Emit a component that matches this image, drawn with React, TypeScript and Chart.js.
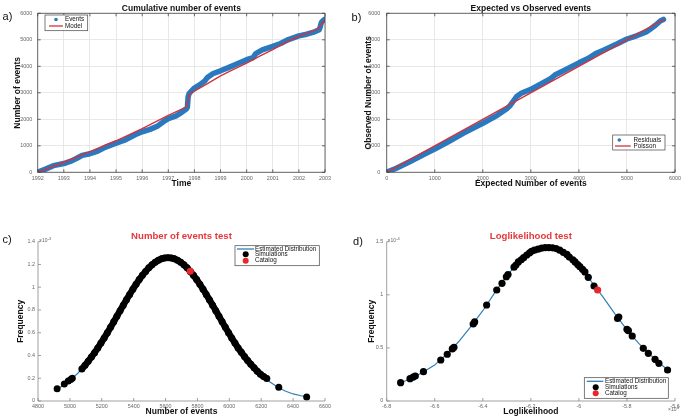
import { useEffect, useRef } from 'react';
import { Chart, registerables } from 'chart.js';
Chart.register(...registerables);

const FONT = '"Liberation Sans", Arial, Helvetica, sans-serif';
const BLUE = '#2a78bd';
const RED = '#d0343c';
const LINEBLUE = '#2f7fb8';
const TITLERED = '#e5383b';

// ---- Panel a: cumulative number of events ----
const eventYears = [1992.0, 1992.3, 1992.6, 1993.0, 1993.3, 1993.5, 1993.7, 1994.0, 1994.3, 1994.6, 1995.0, 1995.3, 1995.6, 1995.8, 1996.0, 1996.3, 1996.6, 1996.8, 1997.0, 1997.3, 1997.5, 1997.7, 1997.73, 1997.76, 1997.8, 1997.9, 1998.0, 1998.2, 1998.4, 1998.5, 1998.7, 1999.0, 1999.3, 1999.6, 2000.0, 2000.25, 2000.35, 2000.6, 2001.0, 2001.3, 2001.6, 2002.0, 2002.3, 2002.6, 2002.78, 2002.82, 2002.86, 2002.92, 2003.0];
const eventCounts = [0, 120, 250, 330, 430, 530, 640, 700, 800, 950, 1100, 1200, 1350, 1450, 1530, 1620, 1750, 1900, 2020, 2130, 2250, 2400, 2450, 2850, 2980, 3080, 3180, 3300, 3450, 3580, 3720, 3830, 3950, 4080, 4250, 4330, 4480, 4620, 4750, 4860, 5010, 5150, 5210, 5300, 5380, 5500, 5650, 5720, 5780];
const modelYears = [1992, 1993, 1994, 1995, 1996, 1997, 1997.7, 1997.74, 1997.78, 1997.85, 1998, 1998.5, 1999, 1999.5, 2000, 2000.5, 2001, 2001.5, 2002, 2002.5, 2002.75, 2002.85, 2002.95, 2003];
const modelCounts = [0, 380, 780, 1190, 1650, 2150, 2470, 2600, 2880, 2990, 3060, 3350, 3640, 3880, 4120, 4380, 4630, 4900, 5140, 5320, 5420, 5560, 5700, 5750];

// ---- Panel b: expected vs observed ----
const expectedX = [0, 200, 500, 800, 1000, 1300, 1600, 2000, 2300, 2500, 2560, 2620, 2700, 2800, 3000, 3200, 3400, 3500, 3700, 4000, 4200, 4350, 4500, 4800, 5000, 5200, 5400, 5500, 5600, 5700, 5760];
const observedY = [0, 150, 420, 700, 880, 1170, 1480, 1850, 2150, 2400, 2500, 2650, 2850, 2980, 3130, 3330, 3520, 3670, 3850, 4130, 4300, 4480, 4600, 4850, 5030, 5150, 5300, 5420, 5560, 5720, 5770];
const poissonX = [0, 5760];
const poissonY = [0, 5760];

// ---- Panel c: number of events test (y in 1e-3) ----
const distNX = [4920, 4950, 5000, 5050, 5100, 5150, 5200, 5250, 5300, 5350, 5400, 5450, 5500, 5550, 5600, 5650, 5700, 5750, 5800, 5850, 5900, 5950, 6000, 6050, 6100, 6150, 6200, 6250, 6300, 6350, 6400, 6450, 6490];
const distNY = [0.105, 0.13, 0.181, 0.244, 0.323, 0.415, 0.52, 0.636, 0.757, 0.878, 0.994, 1.096, 1.177, 1.233, 1.258, 1.252, 1.214, 1.147, 1.057, 0.949, 0.83, 0.708, 0.589, 0.477, 0.38, 0.295, 0.228, 0.172, 0.125, 0.088, 0.062, 0.046, 0.035];
const simNBandX = [5075, 5095, 5115, 5135, 5155, 5175, 5195, 5215, 5235, 5255, 5275, 5295, 5315, 5335, 5355, 5375, 5395, 5415, 5435, 5455, 5475, 5495, 5515, 5535, 5555, 5575, 5595, 5615, 5635, 5655, 5675, 5695, 5715, 5735, 5755, 5775, 5795, 5815, 5835, 5855, 5875, 5895, 5915, 5935, 5955, 5975, 5995, 6015, 6035, 6055, 6075, 6095, 6115, 6135, 6155, 6175, 6195, 6215, 6235];
const simNBandY = [0.282, 0.314, 0.349, 0.386, 0.425, 0.466, 0.509, 0.554, 0.6, 0.648, 0.696, 0.745, 0.794, 0.842, 0.89, 0.937, 0.983, 1.026, 1.067, 1.105, 1.139, 1.17, 1.197, 1.219, 1.237, 1.25, 1.257, 1.26, 1.257, 1.25, 1.237, 1.219, 1.197, 1.17, 1.139, 1.105, 1.067, 1.026, 0.983, 0.937, 0.89, 0.842, 0.794, 0.745, 0.696, 0.648, 0.6, 0.554, 0.509, 0.466, 0.428, 0.39, 0.355, 0.322, 0.292, 0.262, 0.236, 0.215, 0.198];
const simNTailX = [4920, 4965, 4990, 5005, 5015, 6310, 6485];
const simNTailY = [0.108, 0.15, 0.175, 0.19, 0.2, 0.12, 0.035];
const catalogNX = [5755];
const catalogNY = [1.14];

// ---- Panel d: loglikelihood test (x in 1e4, y in 1e-4) ----
const distLX = [-6.745, -6.7, -6.65, -6.6, -6.55, -6.5, -6.45, -6.4, -6.35, -6.3, -6.25, -6.2, -6.15, -6.1, -6.05, -6.0, -5.95, -5.9, -5.85, -5.8, -5.75, -5.7, -5.65, -5.625];
const distLY = [0.17, 0.21, 0.27, 0.34, 0.44, 0.56, 0.7, 0.85, 1.02, 1.18, 1.31, 1.4, 1.445, 1.44, 1.38, 1.27, 1.13, 0.98, 0.82, 0.67, 0.54, 0.43, 0.33, 0.285];
const simLX = [-6.742, -6.703, -6.69, -6.681, -6.647, -6.575, -6.548, -6.527, -6.52, -6.44, -6.434, -6.384, -6.342, -6.32, -6.302, -6.295, -6.27, -6.262, -6.252, -6.24, -6.23, -6.217, -6.205, -6.197, -6.185, -6.17, -6.155, -6.14, -6.125, -6.11, -6.095, -6.08, -6.065, -6.05, -6.04, -6.025, -6.016, -6.005, -5.996, -5.985, -5.975, -5.961, -5.937, -5.839, -5.834, -5.8, -5.794, -5.778, -5.732, -5.711, -5.683, -5.667, -5.631];
const simLY = [0.173, 0.21, 0.225, 0.235, 0.276, 0.386, 0.44, 0.49, 0.505, 0.725, 0.745, 0.904, 1.045, 1.108, 1.17, 1.19, 1.26, 1.28, 1.31, 1.33, 1.35, 1.375, 1.395, 1.41, 1.42, 1.43, 1.44, 1.445, 1.445, 1.442, 1.435, 1.42, 1.4, 1.38, 1.355, 1.33, 1.31, 1.285, 1.265, 1.24, 1.215, 1.165, 1.083, 0.778, 0.79, 0.675, 0.662, 0.612, 0.496, 0.449, 0.392, 0.355, 0.292];
const catalogLX = [-5.922];
const catalogLY = [1.045];

const pts = (xs: number[], ys: number[]) => xs.map((x, i) => ({ x, y: ys[i] }));
const fmt = (v: number) => String(Math.round(v * 1000) / 1000);

type LegendItem = { kind: 'dot' | 'line' | 'marker'; color: string; text: string; y: number; x1: number; x2?: number };
type ExtraSpec = {
  title: string; titleColor: string; titleSize: number; titleY: number;
  tag: string; tagX: number; tagY: number;
  box: boolean;
  legendBox: [number, number, number, number];
  legendTextX: number;
  legendItems: LegendItem[];
  exps: { base: string; sup: string; x: number; y: number }[];
};
type AxisSpec = { min: number; max: number; step: number; pad: number };
type Spec = {
  w: number; h: number; left: number; top: number;
  area: { l: number; r: number; t: number; b: number };
  yTitle: string; yTitleX: number; xTitle: string; xTitleY: number;
  x: AxisSpec; y: AxisSpec; grid: boolean;
  datasets: any[];
  extra: ExtraSpec;
};

const LABEL_SIZE = 8.5;
const LH = LABEL_SIZE * 1.2;

function extrasPlugin(e: ExtraSpec) {
  return {
    id: 'extras',
    afterDraw(chart: any) {
      const ctx: CanvasRenderingContext2D = chart.ctx;
      const a = chart.chartArea;
      const xs = chart.scales.x;
      const ys = chart.scales.y;
      ctx.save();
      ctx.strokeStyle = e.box ? '#444' : '#888';
      ctx.lineWidth = 0.8;
      ctx.beginPath();
      xs.ticks.forEach((t: any) => {
        const p = xs.getPixelForValue(t.value);
        ctx.moveTo(p, a.bottom); ctx.lineTo(p, a.bottom - 3);
        if (e.box) { ctx.moveTo(p, a.top); ctx.lineTo(p, a.top + 3); }
      });
      ys.ticks.forEach((t: any) => {
        const p = ys.getPixelForValue(t.value);
        ctx.moveTo(a.left, p); ctx.lineTo(a.left + 3, p);
        if (e.box) { ctx.moveTo(a.right, p); ctx.lineTo(a.right - 3, p); }
      });
      ctx.stroke();
      ctx.beginPath();
      if (e.box) {
        ctx.rect(a.left, a.top, a.right - a.left, a.bottom - a.top);
      } else {
        ctx.moveTo(a.left, a.top); ctx.lineTo(a.left, a.bottom); ctx.lineTo(a.right, a.bottom);
      }
      ctx.stroke();
      ctx.fillStyle = e.titleColor;
      ctx.font = `bold ${e.titleSize}px ${FONT}`;
      ctx.textAlign = 'center';
      ctx.textBaseline = 'middle';
      ctx.fillText(e.title, (a.left + a.right) / 2, e.titleY);
      ctx.fillStyle = '#111';
      ctx.font = `11px ${FONT}`;
      ctx.fillText(e.tag, e.tagX, e.tagY);
      ctx.fillStyle = '#666';
      ctx.textAlign = 'left';
      e.exps.forEach((x) => {
        ctx.font = `5px ${FONT}`;
        ctx.fillText(x.base, x.x, x.y);
        const w = ctx.measureText(x.base).width;
        ctx.font = `4px ${FONT}`;
        ctx.fillText(x.sup, x.x + w + 0.3, x.y - 2);
      });
      const [bx, by, bw, bh] = e.legendBox;
      ctx.fillStyle = '#fff';
      ctx.fillRect(bx, by, bw, bh);
      ctx.strokeStyle = '#444';
      ctx.lineWidth = 0.7;
      ctx.strokeRect(bx, by, bw, bh);
      e.legendItems.forEach((it) => {
        if (it.kind === 'line') {
          ctx.strokeStyle = it.color;
          ctx.lineWidth = 1.3;
          ctx.beginPath();
          ctx.moveTo(it.x1, it.y); ctx.lineTo(it.x2 as number, it.y);
          ctx.stroke();
        } else {
          ctx.fillStyle = it.color;
          ctx.beginPath();
          ctx.arc(it.x1, it.y, it.kind === 'dot' ? 1.8 : 3, 0, Math.PI * 2);
          ctx.fill();
        }
        ctx.fillStyle = '#111';
        ctx.font = `6.3px ${FONT}`;
        ctx.textAlign = 'left';
        ctx.textBaseline = 'middle';
        ctx.fillText(it.text, e.legendTextX, it.y);
      });
      ctx.restore();
    },
  };
}

function makeConfig(s: Spec): any {
  const padLeft = s.yTitleX - LH / 2;
  const tickFont = { family: FONT, size: 5.4 };
  const titleFont = { family: FONT, size: LABEL_SIZE, weight: 'bold' as const };
  return {
    type: 'scatter',
    data: { datasets: s.datasets },
    options: {
      animation: false,
      responsive: false,
      devicePixelRatio: 1,
      events: [],
      layout: { padding: { left: padLeft, top: s.area.t, right: s.w - s.area.r, bottom: 0 } },
      plugins: { legend: { display: false }, tooltip: { enabled: false }, title: { display: false } },
      scales: {
        x: {
          type: 'linear', min: s.x.min, max: s.x.max,
          afterFit: (sc: any) => { sc.height = s.h - s.area.b; },
          ticks: { stepSize: s.x.step, callback: (v: number) => fmt(v), font: tickFont, color: '#666', padding: s.x.pad, maxRotation: 0, autoSkip: false },
          grid: { display: s.grid, color: '#e2e2e2', lineWidth: 0.8, drawTicks: false },
          border: { display: false },
          title: { display: true, text: s.xTitle, font: titleFont, color: '#111', padding: { top: 0, bottom: s.h - s.xTitleY - LH / 2 } },
        },
        y: {
          type: 'linear', min: s.y.min, max: s.y.max,
          afterFit: (sc: any) => { sc.width = s.area.l - padLeft; },
          ticks: { stepSize: s.y.step, callback: (v: number) => fmt(v), font: tickFont, color: '#666', padding: s.y.pad, autoSkip: false },
          grid: { display: s.grid, color: '#e2e2e2', lineWidth: 0.8, drawTicks: false },
          border: { display: false },
          title: { display: true, text: s.yTitle, font: titleFont, color: '#111', padding: { top: 0, bottom: 0 } },
        },
      },
    },
    plugins: [extrasPlugin(s.extra)],
  };
}

const lineDs = (label: string, data: any[], color: string, width: number, order: number) => ({
  label, data, showLine: true, borderColor: color, backgroundColor: color, borderWidth: width,
  pointRadius: 0, borderJoinStyle: 'round', borderCapStyle: 'round', order,
});
const markDs = (label: string, data: any[], color: string, r: number, order: number, line = 0) => ({
  label, data, showLine: line > 0, borderColor: color, backgroundColor: color, borderWidth: line,
  pointRadius: r, pointBorderWidth: 0, pointStyle: 'circle', borderJoinStyle: 'round', order,
});

const specs: Spec[] = [
  {
    w: 340, h: 200, left: 0, top: 0,
    area: { l: 37.7, r: 325, t: 13.3, b: 172.3 },
    yTitle: 'Number of events', yTitleX: 17.3, xTitle: 'Time', xTitleY: 183.3,
    x: { min: 1992, max: 2003, step: 1, pad: 2.5 }, y: { min: 0, max: 6000, step: 1000, pad: 5.5 }, grid: true,
    datasets: [
      lineDs('Model', pts(modelYears, modelCounts), RED, 1.4, 0),
      lineDs('Events', pts(eventYears, eventCounts), BLUE, 5.5, 1),
    ],
    extra: {
      title: 'Cumulative number of events', titleColor: '#111', titleSize: 8.5, titleY: 8.3,
      tag: 'a)', tagX: 7.5, tagY: 17, box: true,
      legendBox: [45, 15, 42.7, 15.7], legendTextX: 65,
      legendItems: [
        { kind: 'dot', color: BLUE, text: 'Events', y: 19.5, x1: 56 },
        { kind: 'line', color: RED, text: 'Model', y: 26, x1: 49, x2: 63 },
      ],
      exps: [],
    },
  },
  {
    w: 345, h: 200, left: 340, top: 0,
    area: { l: 46.7, r: 335, t: 13.3, b: 172.3 },
    yTitle: 'Observed Number of events', yTitleX: 28.3, xTitle: 'Expected Number of events', xTitleY: 183.3,
    x: { min: 0, max: 6000, step: 1000, pad: 2.5 }, y: { min: 0, max: 6000, step: 1000, pad: 6.5 }, grid: true,
    datasets: [
      lineDs('Poisson', pts(poissonX, poissonY), RED, 1.4, 0),
      lineDs('Residuals', pts(expectedX, observedY), BLUE, 5.5, 1),
    ],
    extra: {
      title: 'Expected vs Observed events', titleColor: '#111', titleSize: 8.5, titleY: 8.5,
      tag: 'b)', tagX: 16.5, tagY: 17.5, box: true,
      legendBox: [272.7, 135, 52.3, 15], legendTextX: 293.5,
      legendItems: [
        { kind: 'dot', color: BLUE, text: 'Residuals', y: 140, x1: 279.3 },
        { kind: 'line', color: RED, text: 'Poisson', y: 146, x1: 275, x2: 290.7 },
      ],
      exps: [],
    },
  },
  {
    w: 340, h: 220, left: 0, top: 200,
    area: { l: 38, r: 325, t: 41.7, b: 201 },
    yTitle: 'Frequency', yTitleX: 21, xTitle: 'Number of events', xTitleY: 211.7,
    x: { min: 4800, max: 6600, step: 200, pad: 2 }, y: { min: 0, max: 1.4, step: 0.2, pad: 3 }, grid: false,
    datasets: [
      markDs('Catalog', pts(catalogNX, catalogNY), '#e8262b', 3.5, 0),
      markDs('Simulations', pts(simNBandX, simNBandY), '#000', 3.5, 1, 6.5),
      markDs('Simulations tail', pts(simNTailX, simNTailY), '#000', 3.5, 1),
      lineDs('Estimated Distribution', pts(distNX, distNY), LINEBLUE, 1.2, 2),
    ],
    extra: {
      title: 'Number of events test', titleColor: TITLERED, titleSize: 9.6, titleY: 36,
      tag: 'c)', tagX: 7, tagY: 40, box: false,
      legendBox: [235, 45.7, 84.3, 20], legendTextX: 255,
      legendItems: [
        { kind: 'line', color: LINEBLUE, text: 'Estimated Distribution', y: 49, x1: 237, x2: 254 },
        { kind: 'marker', color: '#000', text: 'Simulations', y: 54.3, x1: 245.7 },
        { kind: 'marker', color: '#e8262b', text: 'Catalog', y: 60.7, x1: 245.7 },
      ],
      exps: [{ base: '×10', sup: '-3', x: 39, y: 41 }],
    },
  },
  {
    w: 345, h: 220, left: 340, top: 200,
    area: { l: 46.7, r: 335, t: 41.7, b: 201 },
    yTitle: 'Frequency', yTitleX: 31.7, xTitle: 'Loglikelihood', xTitleY: 211.7,
    x: { min: -6.8, max: -5.6, step: 0.2, pad: 2 }, y: { min: 0, max: 1.5, step: 0.5, pad: 3.4 }, grid: false,
    datasets: [
      markDs('Catalog', pts(catalogLX, catalogLY), '#e8262b', 3.6, 0),
      markDs('Simulations', pts(simLX, simLY), '#000', 3.6, 1),
      lineDs('Estimated Distribution', pts(distLX, distLY), LINEBLUE, 1.2, 2),
    ],
    extra: {
      title: 'Loglikelihood test', titleColor: TITLERED, titleSize: 9.6, titleY: 36,
      tag: 'd)', tagX: 18, tagY: 42, box: false,
      legendBox: [244.3, 177.7, 84, 20.6], legendTextX: 265,
      legendItems: [
        { kind: 'line', color: LINEBLUE, text: 'Estimated Distribution', y: 181.3, x1: 246.7, x2: 263.3 },
        { kind: 'marker', color: '#000', text: 'Simulations', y: 187.3, x1: 255.7 },
        { kind: 'marker', color: '#e8262b', text: 'Catalog', y: 193.3, x1: 255.7 },
      ],
      exps: [
        { base: '×10', sup: '-4', x: 47.5, y: 41 },
        { base: '×10', sup: '4', x: 328, y: 210 },
      ],
    },
  },
];

function Panel({ spec }: { spec: Spec }) {
  const ref = useRef<HTMLCanvasElement>(null);
  useEffect(() => {
    const chart = new Chart(ref.current as HTMLCanvasElement, makeConfig(spec));
    return () => chart.destroy();
  }, [spec]);
  return (
    <div style={{ position: 'absolute', left: spec.left, top: spec.top, width: spec.w, height: spec.h }}>
      <canvas ref={ref} width={spec.w} height={spec.h} style={{ display: 'block', width: spec.w, height: spec.h }} />
    </div>
  );
}

export default function App() {
  return (
    <div style={{ position: 'fixed', left: 0, top: 0, width: 685, height: 420, background: '#fff', overflow: 'hidden' }}>
      {specs.map((s, i) => (
        <Panel key={i} spec={s} />
      ))}
    </div>
  );
}
